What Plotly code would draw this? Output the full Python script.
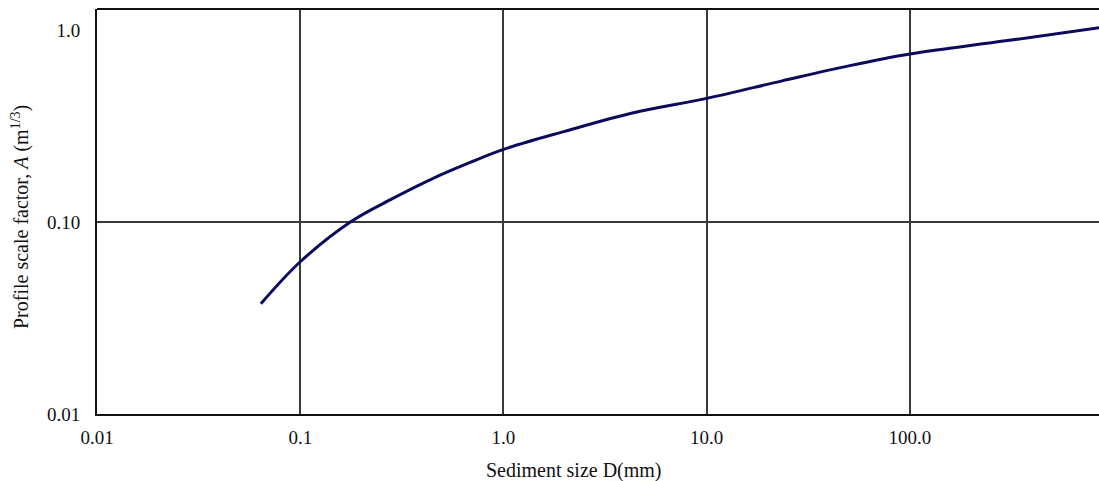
import plotly.graph_objects as go

# Sediment size D (mm) and profile scale factor A (m^1/3)
sediment_size_mm = [0.064, 0.1, 0.178, 0.284, 0.451, 0.690, 1.0, 1.98, 4.31,
                    10.0, 23.5, 50.6, 100.0, 295.0, 922.0]
scale_factor_A = [0.0375, 0.0621, 0.1007, 0.1324, 0.169, 0.205, 0.239, 0.296,
                  0.370, 0.441, 0.544, 0.653, 0.750, 0.879, 1.04]

x_tick_vals = [0.01, 0.1, 1, 10, 100]
x_tick_text = ["0.01", "0.1", "1.0", "10.0", "100.0"]
y_tick_vals = [0.01, 0.1, 1]
y_tick_text = ["0.01", "0.10", "1.0"]

FONT = "Liberation Serif, Times New Roman, serif"
GRID = "#3a3a3a"

fig = go.Figure()
fig.add_trace(go.Scatter(
    x=sediment_size_mm,
    y=scale_factor_A,
    mode="lines",
    line=dict(color="#0b0b5e", width=3, shape="spline", smoothing=1.0),
    showlegend=False,
    hoverinfo="x+y",
))

fig.update_layout(
    width=1099,
    height=481,
    margin=dict(l=97, r=0, t=9, b=67),
    paper_bgcolor="white",
    plot_bgcolor="white",
    font=dict(family=FONT, size=19, color="#111111"),
    xaxis=dict(
        type="log",
        range=[-2, 2.93],
        tickvals=x_tick_vals,
        ticktext=x_tick_text,
        ticks="",
        ticklabelstandoff=5,
        showgrid=True,
        gridcolor=GRID,
        gridwidth=1.5,
        showline=True,
        linecolor="#111111",
        linewidth=2,
        zeroline=False,
    ),
    yaxis=dict(
        type="log",
        range=[-2, 0.11],
        tickvals=y_tick_vals,
        ticktext=y_tick_text,
        ticks="",
        ticklabelstandoff=11,
        showgrid=False,
        minor=dict(tickvals=[0.1], showgrid=True, gridcolor=GRID,
                   gridwidth=1.5, ticks=""),
        showline=True,
        linecolor="#111111",
        linewidth=2,
        zeroline=False,
    ),
    shapes=[
        # top frame line
        dict(type="line", xref="paper", yref="paper", x0=0, x1=1, y0=1, y1=1,
             line=dict(color="#111111", width=2)),
    ],
    annotations=[
        dict(text="Sediment size D(mm)", xref="paper", yref="paper",
             x=0.476, y=0, yshift=-56, xanchor="center", yanchor="middle",
             showarrow=False, font=dict(family=FONT, size=20, color="#111111")),
        dict(text="Profile scale factor, <i>A</i> (m<sup>1/3</sup>)",
             xref="paper", yref="paper", x=-0.077, y=0.486,
             xanchor="center", yanchor="middle", textangle=-90,
             showarrow=False, font=dict(family=FONT, size=20, color="#111111")),
    ],
)

fig.write_html("out.html")
